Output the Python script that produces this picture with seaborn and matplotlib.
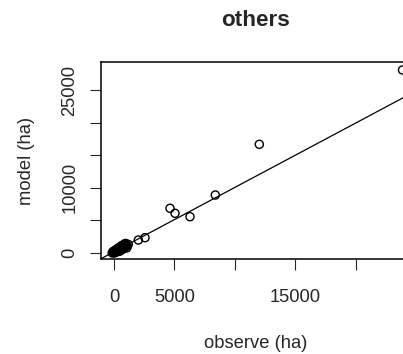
import numpy as np
import pandas as pd
import seaborn as sns
import matplotlib
matplotlib.use("Agg")
import matplotlib.pyplot as plt

obs = [-150, -80, -20, 20, 60, 80, 120, 150, 200, 230, 260, 300, 320, 380, 420,
       450, 480, 520, 560, 600, 640, 680, 720, 750, 800, 830, 880, 900, 950,
       1000, 1050, 1100, 1180, 2012, 2566, 4636, 5050, 6291, 8386, 12028, 23882]
mod = [-60, 150, 40, -80, 300, 120, 60, 380, 150, 500, 330, 120, 650, 260, 420,
       780, 200, 600, 950, 380, 700, 1100, 520, 900, 640, 1250, 820, 1050, 1400,
       1080, 700, 1000, 1250, 1923, 2277, 6800, 6031, 5508, 8846, 16646, 28077]

# fitted line
fit_intercept = 110
fit_slope = 0.99

x_ticks = [0, 5000, 10000, 15000, 20000]
x_ticklabels = ["0", "5000", "", "15000", ""]
y_ticks = [0, 5000, 10000, 15000, 20000, 25000]
y_ticklabels = ["0", "", "10000", "", "", "25000"]

sns.set_style("white")
plt.rcParams["font.family"] = ["Liberation Sans", "DejaVu Sans"]

df = pd.DataFrame({"observe": obs, "model": mod})

W, H = 403, 354
fig = plt.figure(figsize=(W / 100, H / 100), dpi=100)
ax_l, ax_r, ax_t, ax_b = 100.5, 413.6, 62.3, 259.0
ax = fig.add_axes([ax_l / W, 1 - ax_b / H, (ax_r - ax_l) / W, (ax_b - ax_t) / H])

sns.scatterplot(data=df, x="observe", y="model", ax=ax, marker="o",
                facecolor="none", edgecolor="black", linewidth=1.0, s=34,
                legend=False, zorder=3)
ax.axline((0, fit_intercept), slope=fit_slope, color="black", lw=0.9)

ax.set_xlim(-1118, 24800)
ax.set_ylim(-1000, 29262)

ax.set_xticks(x_ticks)
ax.set_xticklabels(x_ticklabels)
ax.set_yticks(y_ticks)
ax.set_yticklabels(y_ticklabels, rotation=90, va="center")

for s in ax.spines.values():
    s.set_linewidth(1.1)
    s.set_color("black")

ax.tick_params(axis="x", length=7.8, width=0.8, pad=13.5, labelsize=13.2,
               direction="out", bottom=True)
ax.tick_params(axis="y", length=7.8, width=0.8, pad=8.3, labelsize=13.2,
               direction="out", left=True)

ax.set_xlabel("observe (ha)", fontsize=13.2)
ax.set_ylabel("model (ha)", fontsize=13.2)
aw = ax_r - ax_l
ah = ax_b - ax_t
ax.xaxis.label.set_va("center")
ax.yaxis.label.set_va("center")
ax.xaxis.set_label_coords((256 - ax_l) / aw, (ax_b - 343) / ah)
ax.yaxis.set_label_coords((26.5 - ax_l) / aw, 0.5)

ax.text((255 - ax_l) / aw, (ax_b - 20.5) / ah, "others", transform=ax.transAxes,
        ha="center", va="center", fontsize=16.2, fontweight="bold")

fig.savefig("out.png", dpi=100)
